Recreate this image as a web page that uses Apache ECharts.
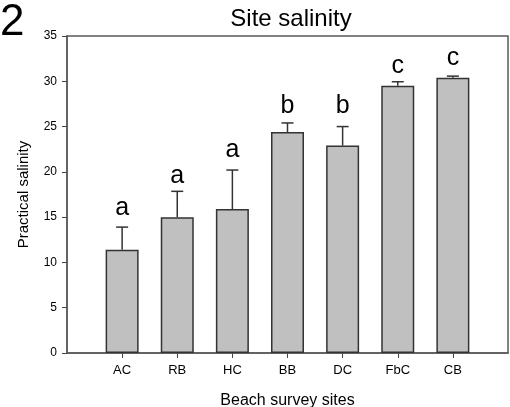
<!DOCTYPE html>
<html>
<head>
<meta charset="utf-8">
<script src="https://cdn.jsdelivr.net/npm/echarts@6/dist/echarts.min.js"></script>
<style>
html,body{margin:0;padding:0;background:#fff;}
#c{width:510px;height:407px;}
</style>
</head>
<body>
<div id="c"></div>
<script>
// ---- data ----
var categories = ['AC', 'RB', 'HC', 'BB', 'DC', 'FbC', 'CB'];
var means = [11.4, 15.0, 15.9, 24.4, 22.9, 29.5, 30.4];
var errors = [2.5, 2.85, 4.3, 1.0, 2.1, 0.45, 0.17];
var letters = ['a', 'a', 'a', 'b', 'b', 'c', 'c'];
var letterPos = [16.05, 19.55, 22.45, 27.25, 27.25, 31.65, 32.55];
var yTicks = [0, 5, 10, 15, 20, 25, 30, 35];

var FONT = 'Arial, "Liberation Sans", sans-serif';
var axisData = [''].concat(categories).concat(['']);

var barData = categories.map(function (c, i) { return [c, means[i]]; });
var errData = categories.map(function (c, i) { return [c, means[i], means[i] + errors[i]]; });
var letterData = categories.map(function (c, i) { return [c, letterPos[i], letters[i]]; });

var chart = echarts.init(document.getElementById('c'), null, {renderer: 'canvas'});
chart.setOption({
  animation: false,
  backgroundColor: '#fff',
  title: {
    text: 'Site salinity',
    left: 286, top: 2,
    textAlign: 'center',
    textStyle: {fontFamily: FONT, fontSize: 24, fontWeight: 'normal', color: '#000'}
  },
  graphic: [{
    type: 'text', left: 0, top: 1,
    style: {text: '2', font: '44px ' + FONT, fill: '#000'}
  }],
  grid: {
    left: 67, right: 2, top: 36, bottom: 54,
    containLabel: false,
    outerBoundsMode: 'none',
    show: true, borderColor: '#5a5a5a', borderWidth: 1.5, backgroundColor: 'transparent'
  },
  xAxis: {
    type: 'category',
    data: axisData,
    boundaryGap: false,
    name: 'Beach survey sites',
    nameLocation: 'middle',
    nameGap: 40,
    nameTextStyle: {fontFamily: FONT, fontSize: 16, color: '#000'},
    axisLine: {lineStyle: {color: '#5a5a5a', width: 1.5}},
    axisTick: {
      length: 5,
      lineStyle: {color: '#444', width: 1},
      interval: function (idx) { return idx > 0 && idx < axisData.length - 1; }
    },
    axisLabel: {
      fontFamily: FONT, fontSize: 13, color: '#000', margin: 11,
      interval: 0
    },
    splitLine: {show: false}
  },
  yAxis: {
    type: 'value',
    min: yTicks[0], max: yTicks[yTicks.length - 1], interval: 5,
    name: 'Practical salinity',
    nameLocation: 'middle',
    nameGap: 36,
    nameTextStyle: {fontFamily: FONT, fontSize: 15, color: '#000'},
    axisLine: {show: true, lineStyle: {color: '#5a5a5a', width: 1.5}},
    axisTick: {show: true, length: 5, lineStyle: {color: '#444', width: 1}},
    axisLabel: {fontFamily: FONT, fontSize: 12, color: '#000', margin: 10},
    splitLine: {show: false}
  },
  series: [
    {
      type: 'bar',
      data: barData,
      barWidth: 33,
      itemStyle: {color: '#c0c0c0', borderColor: '#333', borderWidth: 1.5},
      z: 2
    },
    {
      type: 'custom',
      data: errData,
      z: 3,
      renderItem: function (params, api) {
        var x = api.value(0);
        var lo = api.coord([x, api.value(1)]);
        var hi = api.coord([x, api.value(2)]);
        var half = 6;
        var st = {stroke: '#333', lineWidth: 1.5, fill: null};
        return {
          type: 'group',
          children: [
            {type: 'line', shape: {x1: lo[0], y1: lo[1], x2: hi[0], y2: hi[1]}, style: st},
            {type: 'line', shape: {x1: hi[0] - half, y1: hi[1], x2: hi[0] + half, y2: hi[1]}, style: st}
          ]
        };
      }
    },
    {
      type: 'custom',
      data: letterData,
      z: 4,
      renderItem: function (params, api) {
        var p = api.coord([api.value(0), api.value(1)]);
        return {
          type: 'text',
          x: p[0], y: p[1],
          style: {
            text: letters[params.dataIndex],
            font: '25px ' + FONT,
            fill: '#000',
            align: 'center',
            verticalAlign: 'middle'
          }
        };
      }
    }
  ]
});
</script>
</body>
</html>
